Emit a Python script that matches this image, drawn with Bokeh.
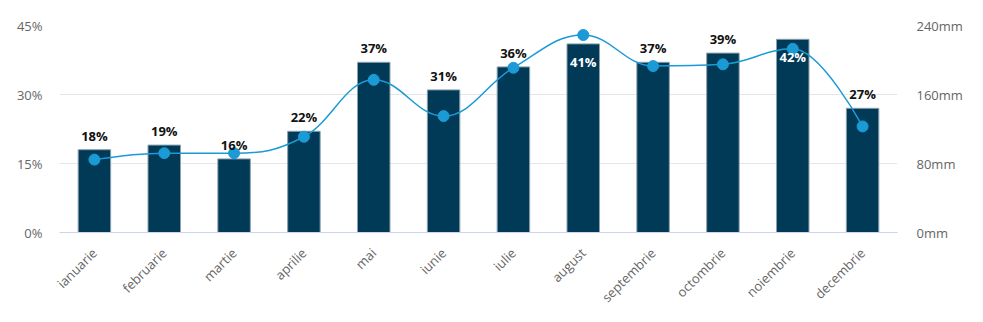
import numpy as np
from bokeh.plotting import figure
from bokeh.models import Range1d, LinearAxis, FixedTicker, ColumnDataSource
from bokeh.core.properties import value
from bokeh.embed import file_html
from bokeh.resources import INLINE

# ---------------- data ----------------
months = ["ianuarie", "februarie", "martie", "aprilie", "mai", "iunie",
          "iulie", "august", "septembrie", "octombrie", "noiembrie", "decembrie"]
pct_values = [18, 19, 16, 22, 37, 31, 36, 41, 37, 39, 42, 27]
mm_values = [84.5, 92, 92, 111, 177, 135, 191, 229, 193, 195, 213, 123]
pct_ticks = [0, 15, 30, 45]
pct_tick_labels = ["0%", "15%", "30%", "45%"]
mm_ticks = [0, 80, 160, 240]
mm_tick_labels = ["0mm", "80mm", "160mm", "240mm"]

# ---------------- style ----------------
BAR_COLOR = "#003a57"
LINE_COLOR = "#1b9ad6"
FONT = "Open Sans"
TICK_COLOR = "#666666"

x = list(range(len(months)))

p = figure(width=983, height=322, output_backend="svg", toolbar_location=None,
           x_range=Range1d(-0.5, len(months) - 0.5),
           y_range=Range1d(pct_ticks[0], pct_ticks[-1]),
           min_border_left=59, min_border_right=86,
           min_border_top=25, min_border_bottom=90)
p.extra_y_ranges = {"mm": Range1d(mm_ticks[0], mm_ticks[-1])}
p.outline_line_color = None
p.background_fill_color = "white"
p.border_fill_color = "white"

# grid
p.xgrid.visible = False
p.ygrid.ticker = FixedTicker(ticks=pct_ticks)
p.ygrid.grid_line_color = "#e6e6e6"
p.ygrid.grid_line_width = 1

# left axis
ly = p.yaxis[0]
ly.ticker = FixedTicker(ticks=pct_ticks)
ly.major_label_overrides = {t: l for t, l in zip(pct_ticks, pct_tick_labels)}
ly.axis_line_color = None
ly.major_tick_line_color = None
ly.minor_tick_line_color = None
ly.major_tick_out = 0
ly.major_label_standoff = 17
ly.major_label_text_font = FONT
ly.major_label_text_font_size = "13px"
ly.major_label_text_color = TICK_COLOR

# right axis
ry = LinearAxis(y_range_name="mm")
ry.ticker = FixedTicker(ticks=mm_ticks)
ry.major_label_overrides = {t: l for t, l in zip(mm_ticks, mm_tick_labels)}
ry.axis_line_color = None
ry.major_tick_line_color = None
ry.minor_tick_line_color = None
ry.major_tick_out = 0
ry.major_label_standoff = 19
ry.major_label_text_font = FONT
ry.major_label_text_font_size = "13px"
ry.major_label_text_color = TICK_COLOR
p.add_layout(ry, "right")

# bottom axis
bx = p.xaxis[0]
bx.ticker = FixedTicker(ticks=x)
bx.major_label_overrides = {i: m for i, m in zip(x, months)}
bx.major_label_orientation = np.pi / 4
bx.axis_line_color = "#ccd6eb"
bx.axis_line_width = 1
bx.major_tick_line_color = None
bx.minor_tick_line_color = None
bx.major_tick_out = 0
bx.major_label_standoff = 18
bx.major_label_text_font = FONT
bx.major_label_text_font_size = "13px"
bx.major_label_text_color = TICK_COLOR

# bars
p.vbar(x=x, top=pct_values, width=0.465, bottom=0,
       fill_color=BAR_COLOR, line_color="#8aa0ae", line_width=1)

# spline (Highcharts-style control points, smoothing 1.5)
def spline_controls(xs, ys, smoothing=1.5):
    n = len(xs)
    denom = smoothing + 1
    rc = [None] * n
    lc = [None] * n
    for i in range(1, n - 1):
        px, py = xs[i], ys[i]
        lx, ly_ = xs[i - 1], ys[i - 1]
        nx, ny = xs[i + 1], ys[i + 1]
        lcx = (smoothing * px + lx) / denom
        lcy = (smoothing * py + ly_) / denom
        rcx = (smoothing * px + nx) / denom
        rcy = (smoothing * py + ny) / denom
        corr = 0
        if rcx != lcx:
            corr = (rcy - lcy) * (rcx - px) / (rcx - lcx) + py - rcy
        lcy += corr
        rcy += corr
        if lcy > ly_ and lcy > py:
            lcy = max(ly_, py); rcy = 2 * py - lcy
        elif lcy < ly_ and lcy < py:
            lcy = min(ly_, py); rcy = 2 * py - lcy
        if rcy > ny and rcy > py:
            rcy = max(ny, py); lcy = 2 * py - rcy
        elif rcy < ny and rcy < py:
            rcy = min(ny, py); lcy = 2 * py - rcy
        lc[i] = (lcx, lcy)
        rc[i] = (rcx, rcy)
    segs = dict(x0=[], y0=[], x1=[], y1=[], cx0=[], cy0=[], cx1=[], cy1=[])
    for i in range(1, n):
        a = rc[i - 1] if rc[i - 1] else (xs[i - 1], ys[i - 1])
        b = lc[i] if lc[i] else (xs[i], ys[i])
        segs["x0"].append(xs[i - 1]); segs["y0"].append(ys[i - 1])
        segs["x1"].append(xs[i]); segs["y1"].append(ys[i])
        segs["cx0"].append(a[0]); segs["cy0"].append(a[1])
        segs["cx1"].append(b[0]); segs["cy1"].append(b[1])
    return segs

segs = spline_controls([float(v) for v in x], [float(v) for v in mm_values])
p.bezier(source=ColumnDataSource(segs), x0="x0", y0="y0", x1="x1", y1="y1",
         cx0="cx0", cy0="cy0", cx1="cx1", cy1="cy1",
         line_color=LINE_COLOR, line_width=1.5, y_range_name="mm")
p.scatter(x=x, y=mm_values, size=11, fill_color=LINE_COLOR, line_color=LINE_COLOR,
          y_range_name="mm")

# data labels
ymax = pct_ticks[-1]
inside = [v + 4.5 > ymax for v in pct_values]
out_src = ColumnDataSource(dict(
    x=[xi for xi, ins in zip(x, inside) if not ins],
    y=[v for v, ins in zip(pct_values, inside) if not ins],
    t=[f"{v}%" for v, ins in zip(pct_values, inside) if not ins]))
in_src = ColumnDataSource(dict(
    x=[xi for xi, ins in zip(x, inside) if ins],
    y=[v for v, ins in zip(pct_values, inside) if ins],
    t=[f"{v}%" for v, ins in zip(pct_values, inside) if ins]))
p.text(source=out_src, x="x", y="y", text="t", text_align="center",
       text_baseline="alphabetic", y_offset=-14, text_font=value(FONT),
       text_font_size="13px", text_font_style="bold", text_color="#111111")
p.text(source=in_src, x="x", y="y", text="t", text_align="center",
       text_baseline="alphabetic", y_offset=18, text_font=value(FONT),
       text_font_size="13px", text_font_style="bold", text_color="#ffffff")

open("out.html", "w").write(file_html(p, INLINE))
